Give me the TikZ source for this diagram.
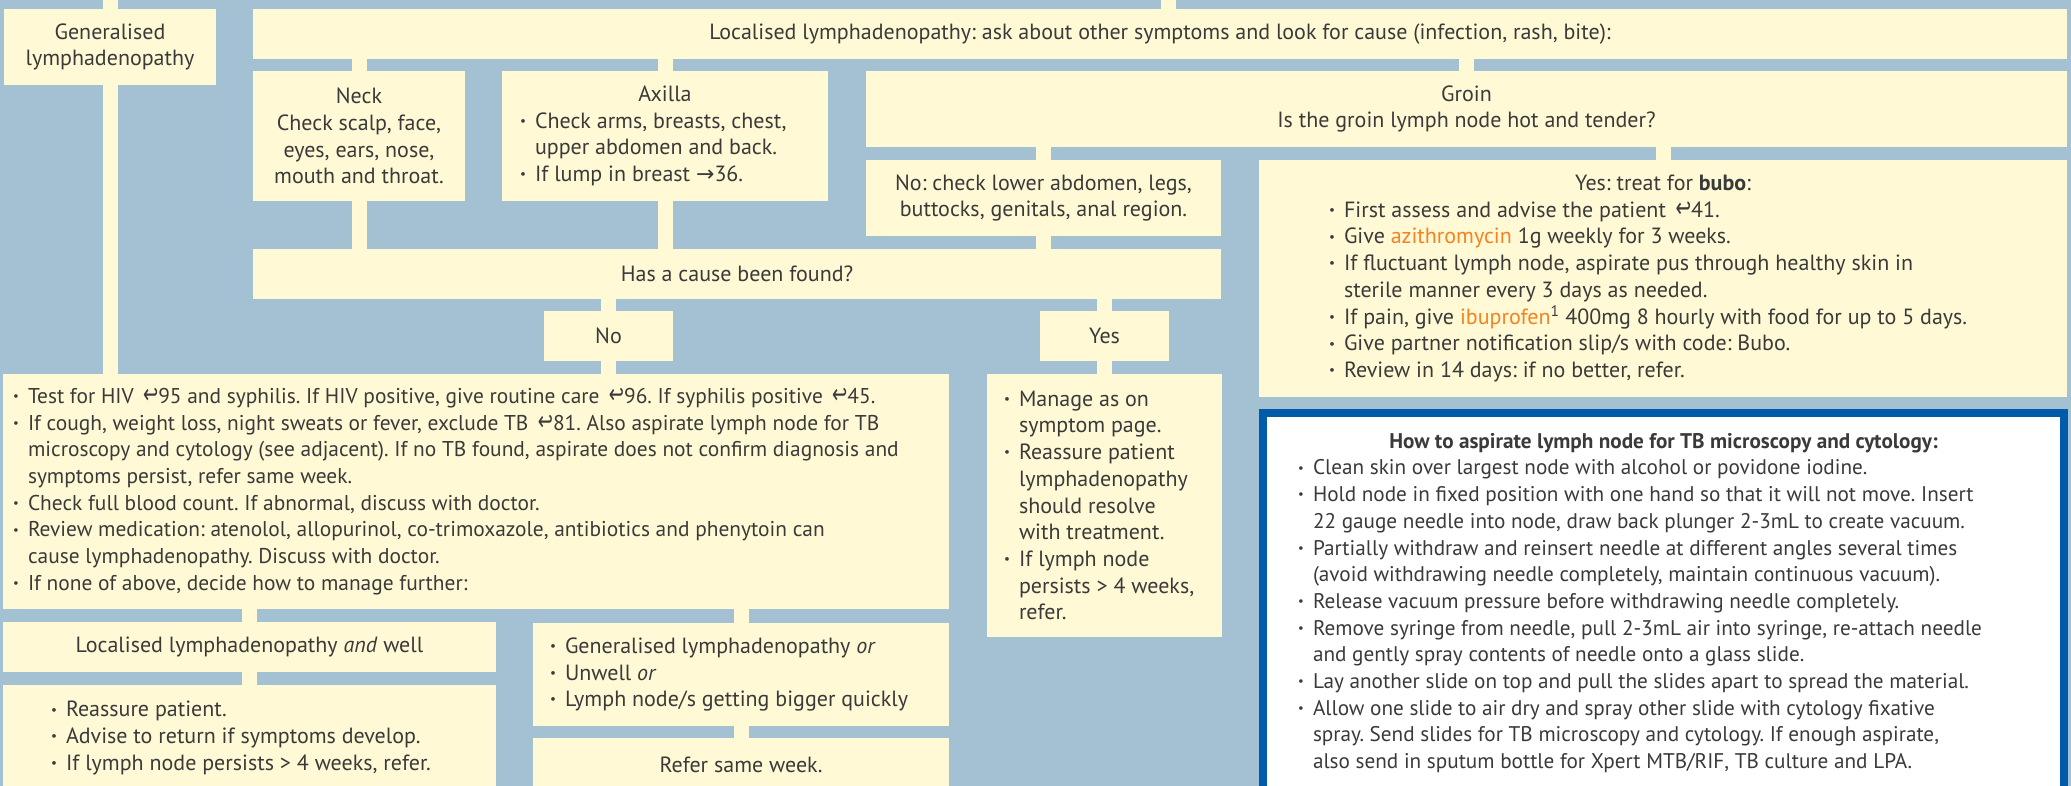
\documentclass[tikz,border=0pt]{standalone}
\usepackage{fontspec}
\setmainfont{PT Sans}
\newfontfamily\symfont{DejaVu Sans}
\usepackage{tikz}
\frenchspacing

\definecolor{bgblue}{HTML}{A3C1D3}
\definecolor{cream}{HTML}{FFFAD5}
\definecolor{tbblue}{HTML}{005BAA}
\definecolor{drugorange}{HTML}{F58220}
\definecolor{ink}{HTML}{3A3A3A}

\newlength{\bulind}\setlength{\bulind}{15pt}
\newcommand{\ret}{\,{\symfont\scalebox{0.85}[1.25]{↩}}}
\newcommand{\rarr}{{\symfont →}}
\newcommand{\drug}[1]{\textcolor{drugorange}{#1}}
\newcommand{\bul}{\par\noindent\hangindent=\bulind\hangafter=1\makebox[\bulind][l]{\raisebox{0.25ex}{\scalebox{0.6}{\textbullet}}}}
% box width, left pad, list
\newcommand{\blist}[3]{\hbox to #1{\hspace*{#2}\vtop{\hsize=\dimexpr#1-#2-#2\relax\parindent=0pt\rightskip=-300pt plus 1fil\relax #3\par}\hss}}

\begin{document}
\begin{tikzpicture}[x=1pt,y=1pt,yscale=-1,xscale=1,
  box/.style={fill=cream, inner sep=0pt, outer sep=0pt, anchor=north west, align=center, text=ink, font=\fontsize{22}{26.7}\selectfont},
  lbox/.style={fill=cream, inner sep=0pt, outer sep=0pt, anchor=north west, text=ink, font=\fontsize{22}{26.7}\selectfont},
  tbox/.style={lbox, fill=white, font=\fontsize{21.2}{26.7}\selectfont},
  tbframe/.style={draw=tbblue, line width=8pt},
  bar/.style={draw=cream, line width=15pt}]
\useasboundingbox (0,0) rectangle (2071,786);
\fill[bgblue] (0,0) rectangle (2071,786);

% Text Node
\node[box, minimum width=212pt, minimum height=76pt] (gen) at (4,9) {Generalised\\lymphadenopathy};
% Text Node
\node[box, minimum width=1814pt, minimum height=50pt] (loc) at (253,9) {Localised lymphadenopathy: ask about other symptoms and look for cause (infection, rash, bite):};
% Text Node
\node[box, minimum width=212pt, minimum height=130pt] (neck) at (253,71) {Neck\\Check scalp, face,\\eyes, ears, nose,\\mouth and throat.};
% Text Node
\node[lbox, minimum width=326pt, minimum height=130pt] (axilla) at (502,71) {\blist{326pt}{18pt}{\centerline{Axilla}
  \bul Check arms, breasts, chest,\newline upper abdomen and back.
  \bul If lump in breast \rarr36.}};
% Text Node
\node[box, minimum width=1201pt, minimum height=76pt] (groin) at (866,71) {Groin\\Is the groin lymph node hot and tender?};
% Text Node
\node[box, minimum width=355pt, minimum height=76pt] (nocheck) at (866,160) {No: check lower abdomen, legs,\\buttocks, genitals, anal region.};
% Text Node
\node[lbox, minimum width=808pt, minimum height=237pt] (bubo) at (1259,160) {\blist{808pt}{70pt}{\centerline{Yes: treat for \textbf{bubo}:}
  \bul First assess and advise the patient \ret41.
  \bul Give \drug{azithromycin} 1g weekly for 3 weeks.
  \bul If fluctuant lymph node, aspirate pus through healthy skin in\newline sterile manner every 3 days as needed.
  \bul If pain, give \drug{ibuprofen}\textsuperscript{1} 400mg 8 hourly with food for up to 5 days.
  \bul Give partner notification slip/s with code: Bubo.
  \bul Review in 14 days: if no better, refer.}};
% Text Node
\node[box, minimum width=968pt, minimum height=50pt] (cause) at (253,249) {Has a cause been found?};
% Text Node
\node[box, minimum width=129pt, minimum height=50pt] (no) at (544,311) {No};
% Text Node
\node[box, minimum width=129pt, minimum height=50pt] (yes) at (1040,311) {Yes};
% Text Node
\node[lbox, minimum width=946pt, minimum height=235pt, font=\fontsize{21.4}{26.7}\selectfont] (nobox) at (3,374) {\blist{946pt}{10pt}{
  \bul Test for HIV \ret95 and syphilis. If HIV positive, give routine care \ret96. If syphilis positive \ret45.
  \bul If cough, weight loss, night sweats or fever, exclude TB \ret81. Also aspirate lymph node for TB\newline microscopy and cytology (see adjacent). If no TB found, aspirate does not confirm diagnosis and\newline symptoms persist, refer same week.
  \bul Check full blood count. If abnormal, discuss with doctor.
  \bul Review medication: atenolol, allopurinol, co-trimoxazole, antibiotics and phenytoin can\newline cause lymphadenopathy. Discuss with doctor.
  \bul If none of above, decide how to manage further:}};
% Text Node
\node[lbox, minimum width=235pt, minimum height=263pt] (yesbox) at (987,374) {\blist{235pt}{17pt}{
  \bul Manage as on\newline symptom page.
  \bul Reassure patient\newline lymphadenopathy\newline should resolve\newline with treatment.
  \bul If lymph node\newline persists > 4 weeks,\newline refer.}};
% Text Node
\node[box, minimum width=493pt, minimum height=50pt] (locwell) at (3,622) {Localised lymphadenopathy \emph{and} well};
% Text Node
\node[lbox, minimum width=493pt, minimum height=106pt] (reassure) at (3,685) {\blist{493pt}{48pt}{
  \bul Reassure patient.
  \bul Advise to return if symptoms develop.
  \bul If lymph node persists > 4 weeks, refer.}};
% Text Node
\node[lbox, minimum width=416pt, minimum height=103pt] (genor) at (533,623) {\blist{416pt}{17pt}{
  \bul Generalised lymphadenopathy \emph{or}
  \bul Unwell \emph{or}
  \bul Lymph node/s getting bigger quickly}};
% Text Node
\node[box, minimum width=416pt, minimum height=54pt] (refer) at (533,738) {Refer same week.};
% Text Node
\node[tbox, minimum width=801pt, minimum height=380pt] (tb) at (1263,413) {\blist{801pt}{35pt}{\centerline{\textbf{How to aspirate lymph node for TB microscopy and cytology:}}
  \bul Clean skin over largest node with alcohol or povidone iodine.
  \bul Hold node in fixed position with one hand so that it will not move. Insert\newline 22 gauge needle into node, draw back plunger 2-3mL to create vacuum.
  \bul Partially withdraw and reinsert needle at different angles several times\newline (avoid withdrawing needle completely, maintain continuous vacuum).
  \bul Release vacuum pressure before withdrawing needle completely.
  \bul Remove syringe from needle, pull 2-3mL air into syringe, re-attach needle\newline and gently spray contents of needle onto a glass slide.
  \bul Lay another slide on top and pull the slides apart to spread the material.
  \bul Allow one slide to air dry and spray other slide with cytology fixative\newline spray. Send slides for TB microscopy and cytology. If enough aspirate,\newline also send in sputum bottle for Xpert MTB/RIF, TB culture and LPA.}};
%Shape: Rectangle
\draw[tbframe] (tb.north west) rectangle (tb.south east);

% Connectors
\coordinate (in1) at (110,0);
\coordinate (in2) at (1168.5,0);
\draw[bar] (in1) -- (gen.north);
\draw[bar] (gen.south) -- (gen.south |- nobox.north);
\draw[bar] (in2) -- (in2 |- loc.north);
\draw[bar] (loc.south -| neck.north) -- (neck.north);
\draw[bar] (loc.south -| axilla.north) -- (axilla.north);
\draw[bar] (loc.south -| groin.north) -- (groin.north);
\draw[bar] (neck.south) -- (neck.south |- cause.north);
\draw[bar] (axilla.south) -- (axilla.south |- cause.north);
\draw[bar] (groin.south -| nocheck.north) -- (nocheck.north);
\draw[bar] (groin.south -| bubo.north) -- (bubo.north);
\draw[bar] (nocheck.south) -- (nocheck.south |- cause.north);
\draw[bar] (cause.south -| no.north) -- (no.north);
\draw[bar] (cause.south -| yes.north) -- (yes.north);
\draw[bar] (no.south) -- (no.south |- nobox.north);
\draw[bar] (yes.south) -- (yes.south |- yesbox.north);
\draw[bar] (nobox.south -| locwell.north) -- (locwell.north);
\draw[bar] (nobox.south -| genor.north) -- (genor.north);
\draw[bar] (locwell.south) -- (locwell.south |- reassure.north);
\draw[bar] (genor.south) -- (genor.south |- refer.north);

\end{tikzpicture}
\end{document}
